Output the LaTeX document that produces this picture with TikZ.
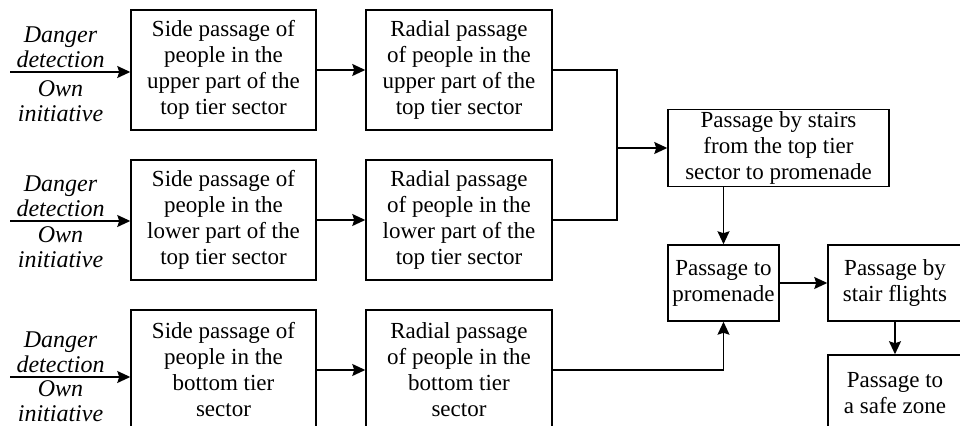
\documentclass[tikz,border=0pt]{standalone}
\usepackage{fontspec}
\setmainfont{Liberation Serif}
\usetikzlibrary{arrows.meta,positioning}

\begin{document}
\begin{tikzpicture}[x=0.5pt, y=-0.5pt,
    block/.style={draw, line width=0.75pt, align=center, inner sep=1pt,
        font=\fontsize{11.5}{13}\selectfont},
    tall/.style={block, minimum width=92.5pt, minimum height=60pt},
    flat/.style={block, minimum height=38pt},
    cause/.style={align=center, inner sep=1.5pt,
        font=\fontsize{12}{12.5}\selectfont\itshape},
    arr/.style={-{Stealth[length=6.5pt, width=6pt, inset=1pt]}, line width=0.75pt}]
    \useasboundingbox (0,0) rectangle (960,426);
    \clip (0,0) rectangle (960,426);

    % first column
    \node[tall] (side1) at (223.5,70) {Side passage of\\people in the\\upper part of the\\top tier sector};
    \node[tall] (side2) at (223.5,220) {Side passage of\\people in the\\lower part of the\\top tier sector};
    \node[tall] (side3) at (223.5,370) {Side passage of\\people in the\\bottom tier\\sector};

    % second column
    \node[tall, minimum width=93pt] (rad1) at (459,70) {Radial passage\\of people in the\\upper part of the\\top tier sector};
    \node[tall, minimum width=93pt] (rad2) at (459,220) {Radial passage\\of people in the\\lower part of the\\top tier sector};
    \node[tall, minimum width=93pt] (rad3) at (459,370) {Radial passage\\of people in the\\bottom tier\\sector};

    % right part
    \node[flat, minimum width=110.5pt] (stairs) at (778.5,148) {Passage by stairs\\from the top tier\\sector to promenade};
    \node[flat, minimum width=55.5pt] (prom) at (723.5,283) {Passage to\\promenade};
    \node[flat, minimum width=67pt] (flights) at (895,283) {Passage by\\stair flights};
    \node[flat, minimum width=67pt] (safe) at (895,393) {Passage to\\a safe zone};

    % inputs
    \coordinate (in1) at (10,72);
    \coordinate (in2) at (10,221);
    \coordinate (in3) at (10,377);
    \draw[arr] (in1) -- node[pos=0.42, cause, above] {Danger\\detection} node[pos=0.42, cause, below, yshift=-2.5pt] {Own\\initiative} (in1 -| side1.west);
    \draw[arr] (in2) -- node[pos=0.42, cause, above] {Danger\\detection} node[pos=0.42, cause, below, yshift=-1pt] {Own\\initiative} (in2 -| side2.west);
    \draw[arr] (in3) -- node[pos=0.42, cause, above] {Danger\\detection} node[pos=0.42, cause, below] {Own\\initiative} (in3 -| side3.west);

    % links
    \draw[arr] (side1) -- (rad1);
    \draw[arr] (side2) -- (rad2);
    \draw[arr] (side3) -- (rad3);

    \coordinate (merge) at (617,148);
    \draw[line width=0.75pt] (rad1.east) -| (merge);
    \draw[line width=0.75pt] (rad2.east) -| (merge);
    \draw[arr] (merge) -- (stairs);
    \draw[arr] (stairs.south -| prom.north) -- (prom.north);
    \draw[arr] (rad3.east) -| (prom.south);
    \draw[arr] (prom) -- (flights);
    \draw[arr] (flights) -- (safe);
\end{tikzpicture}
\end{document}
